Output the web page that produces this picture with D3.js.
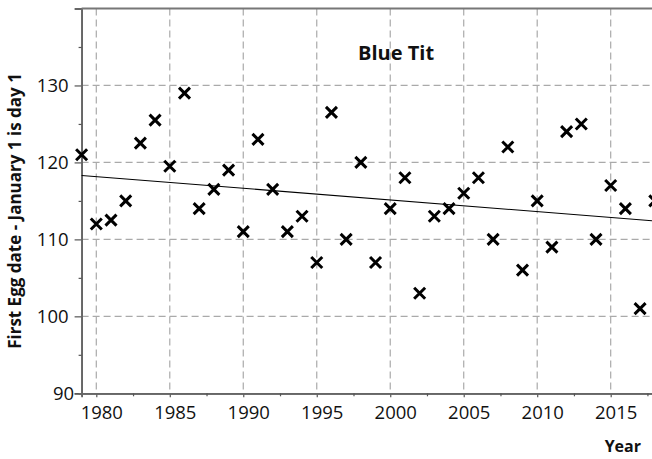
<!DOCTYPE html>
<html>
<head>
<meta charset="utf-8">
<script src="https://cdn.jsdelivr.net/npm/d3@7"></script>
<style>
  body { margin: 0; background: #fff; }
  text { font-family: "Open Sans", sans-serif; fill: #111; }
</style>
</head>
<body>
<div id="chart"></div>
<script>
// first egg dates, Blue Tit
var years = [1979, 1980, 1981, 1982, 1983, 1984, 1985, 1986, 1987, 1988,
             1989, 1990, 1991, 1992, 1993, 1994, 1995, 1996, 1997, 1998,
             1999, 2000, 2001, 2002, 2003, 2004, 2005, 2006, 2007, 2008,
             2009, 2010, 2011, 2012, 2013, 2014, 2015, 2016, 2017, 2018];
var eggDay = [121, 112, 112.5, 115, 122.5, 125.5, 119.5, 129, 114, 116.5,
              119, 111, 123, 116.5, 111, 113, 107, 126.5, 110, 120,
              107, 114, 118, 103, 113, 114, 116, 118, 110, 122,
              106, 115, 109, 124, 125, 110, 117, 114, 101, 115];
var trendYears = [1979, 2018];
var trendValues = [118.3, 112.4];
var xTicks = [1980, 1985, 1990, 1995, 2000, 2005, 2010, 2015];
var xMinor = [1982.5, 1987.5, 1992.5, 1997.5, 2002.5, 2007.5, 2012.5, 2017.5];
var yTicks = [90, 100, 110, 120, 130];
var yMinor = [95, 105, 115, 125, 135];

var width = 652, height = 459;
var plotLeft = 81.6, plotTop = 8.5, plotBottom = 393.3;

var x = d3.scaleLinear().domain([1979, 2018]).range([plotLeft, plotLeft + 39 * 14.697]);
var y = d3.scaleLinear().domain([90, 140]).range([plotBottom, plotTop]);

var svg = d3.select("#chart").append("svg")
    .attr("width", width)
    .attr("height", height);

// grid
svg.append("g").selectAll("line")
    .data(xTicks)
  .enter().append("line")
    .attr("x1", function(d) { return x(d); })
    .attr("x2", function(d) { return x(d); })
    .attr("y1", plotTop)
    .attr("y2", plotBottom)
    .style("stroke", "#aaa")
    .style("stroke-width", 1.2)
    .style("stroke-dasharray", "7,4");

svg.append("g").selectAll("line")
    .data(yTicks.slice(1))
  .enter().append("line")
    .attr("x1", plotLeft)
    .attr("x2", width)
    .attr("y1", function(d) { return y(d); })
    .attr("y2", function(d) { return y(d); })
    .style("stroke", "#aaa")
    .style("stroke-width", 1.2)
    .style("stroke-dasharray", "7,4");

// axes
var xAxis = svg.append("g")
    .attr("transform", "translate(0," + plotBottom + ")")
    .call(d3.axisBottom(x).tickValues(xTicks).tickFormat(d3.format("d")).tickSize(4).tickPadding(8.5));
svg.append("g")
    .attr("transform", "translate(0," + plotBottom + ")")
    .call(d3.axisBottom(x).tickValues(xMinor).tickFormat("").tickSize(3));

var yAxis = svg.append("g")
    .attr("transform", "translate(" + plotLeft + ",0)")
    .call(d3.axisLeft(y).tickValues(yTicks).tickFormat(d3.format("d")).tickSize(7).tickPadding(6));
svg.append("g")
    .attr("transform", "translate(" + plotLeft + ",0)")
    .call(d3.axisLeft(y).tickValues(yMinor).tickFormat("").tickSize(3));

svg.selectAll(".domain").style("stroke", "#666").style("stroke-width", 1.8);
svg.selectAll(".tick line").style("stroke", "#555").style("stroke-width", 1.2);
svg.selectAll(".tick text")
    .style("font-family", "'Open Sans', sans-serif")
    .style("font-size", "18.5px")
    .style("fill", "#111");
xAxis.selectAll(".tick text").attr("dx", 5);
// the 90 label sits against its tick
yAxis.selectAll(".tick text").filter(function(d) { return d === 90; }).attr("dx", 5.5);

// top border
svg.append("line")
    .attr("x1", plotLeft).attr("x2", width)
    .attr("y1", plotTop).attr("y2", plotTop)
    .style("stroke", "#777")
    .style("stroke-width", 2);

// trend line
svg.append("path")
    .datum(d3.zip(trendYears, trendValues))
    .attr("d", d3.line().x(function(d) { return x(d[0]); }).y(function(d) { return y(d[1]); }))
    .style("fill", "none")
    .style("stroke", "#000")
    .style("stroke-width", 1.1);

// crosses
var s = 5.5;
svg.append("g").selectAll("path")
    .data(d3.zip(years, eggDay))
  .enter().append("path")
    .attr("transform", function(d) { return "translate(" + x(d[0]) + "," + y(d[1]) + ")"; })
    .attr("d", "M" + (-s) + "," + (-s) + "L" + s + "," + s + "M" + (-s) + "," + s + "L" + s + "," + (-s))
    .style("stroke", "#000")
    .style("stroke-width", 3)
    .style("fill", "none");

// labels
svg.append("text")
    .attr("x", x(2000.4))
    .attr("y", 60)
    .attr("text-anchor", "middle")
    .style("font-weight", "bold")
    .style("font-size", "20px")
    .text("Blue Tit");

svg.append("text")
    .attr("transform", "translate(21,211) rotate(-90)")
    .attr("text-anchor", "middle")
    .style("font-weight", "bold")
    .style("font-size", "17px")
    .text("First Egg date - January 1 is day 1");

svg.append("text")
    .attr("x", 641)
    .attr("y", 452)
    .attr("text-anchor", "end")
    .style("font-weight", "bold")
    .style("font-size", "16px")
    .text("Year");
</script>
</body>
</html>
